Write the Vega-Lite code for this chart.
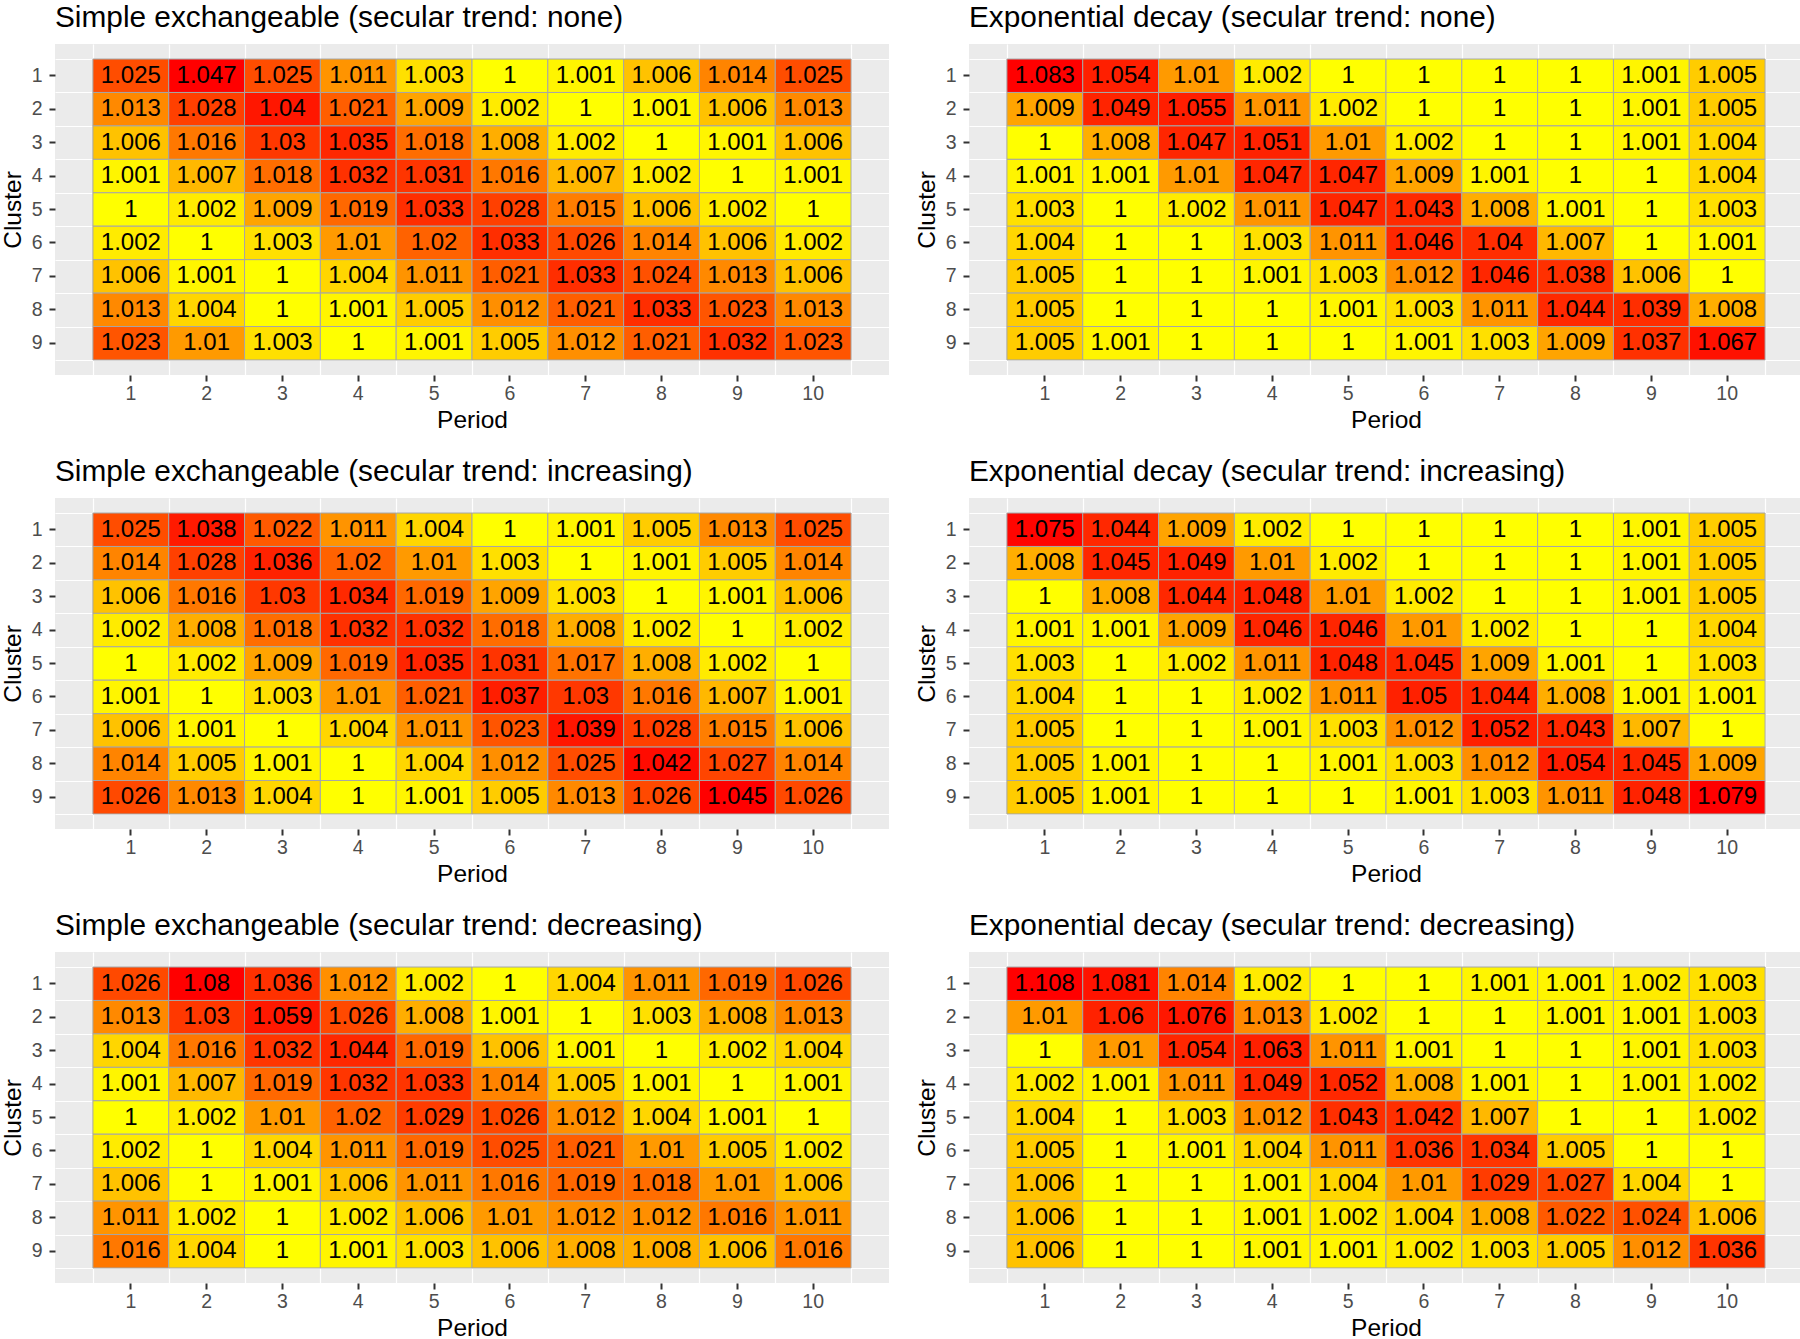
{
"$schema": "https://vega.github.io/schema/vega-lite/v6.json",
"background": "white",
"padding": {"left": 0, "top": 3, "right": 0, "bottom": 0},
"config": {
  "font": "Liberation Sans",
  "view": {"fill": "#EBEBEB", "stroke": null},
  "axis": {"domain": false, "grid": true, "gridColor": "#FFFFFF", "gridWidth": 2, "labelFontSize": 19.5, "labelColor": "#4D4D4D", "labelPadding": 3, "labelAngle": 0, "tickColor": "#333333", "tickSize": 6, "tickWidth": 2, "titleFontSize": 24.5, "titleFontWeight": "normal", "titleColor": "#000000", "titlePadding": 5, "zindex": 0},
  "axisX": {"labelPadding": 3, "titlePadding": 6},
  "axisY": {"labelPadding": 7, "titlePadding": 6},
  "title": {"anchor": "start", "frame": "group", "fontSize": 29.8, "fontWeight": "normal", "color": "#000000", "baseline": "alphabetic", "offset": 11}
},
"datasets": {
"se_none": [
{"cluster":1,"period":1,"value":1.025},{"cluster":1,"period":2,"value":1.047},{"cluster":1,"period":3,"value":1.025},{"cluster":1,"period":4,"value":1.011},{"cluster":1,"period":5,"value":1.003},{"cluster":1,"period":6,"value":1},{"cluster":1,"period":7,"value":1.001},{"cluster":1,"period":8,"value":1.006},{"cluster":1,"period":9,"value":1.014},{"cluster":1,"period":10,"value":1.025},
{"cluster":2,"period":1,"value":1.013},{"cluster":2,"period":2,"value":1.028},{"cluster":2,"period":3,"value":1.04},{"cluster":2,"period":4,"value":1.021},{"cluster":2,"period":5,"value":1.009},{"cluster":2,"period":6,"value":1.002},{"cluster":2,"period":7,"value":1},{"cluster":2,"period":8,"value":1.001},{"cluster":2,"period":9,"value":1.006},{"cluster":2,"period":10,"value":1.013},
{"cluster":3,"period":1,"value":1.006},{"cluster":3,"period":2,"value":1.016},{"cluster":3,"period":3,"value":1.03},{"cluster":3,"period":4,"value":1.035},{"cluster":3,"period":5,"value":1.018},{"cluster":3,"period":6,"value":1.008},{"cluster":3,"period":7,"value":1.002},{"cluster":3,"period":8,"value":1},{"cluster":3,"period":9,"value":1.001},{"cluster":3,"period":10,"value":1.006},
{"cluster":4,"period":1,"value":1.001},{"cluster":4,"period":2,"value":1.007},{"cluster":4,"period":3,"value":1.018},{"cluster":4,"period":4,"value":1.032},{"cluster":4,"period":5,"value":1.031},{"cluster":4,"period":6,"value":1.016},{"cluster":4,"period":7,"value":1.007},{"cluster":4,"period":8,"value":1.002},{"cluster":4,"period":9,"value":1},{"cluster":4,"period":10,"value":1.001},
{"cluster":5,"period":1,"value":1},{"cluster":5,"period":2,"value":1.002},{"cluster":5,"period":3,"value":1.009},{"cluster":5,"period":4,"value":1.019},{"cluster":5,"period":5,"value":1.033},{"cluster":5,"period":6,"value":1.028},{"cluster":5,"period":7,"value":1.015},{"cluster":5,"period":8,"value":1.006},{"cluster":5,"period":9,"value":1.002},{"cluster":5,"period":10,"value":1},
{"cluster":6,"period":1,"value":1.002},{"cluster":6,"period":2,"value":1},{"cluster":6,"period":3,"value":1.003},{"cluster":6,"period":4,"value":1.01},{"cluster":6,"period":5,"value":1.02},{"cluster":6,"period":6,"value":1.033},{"cluster":6,"period":7,"value":1.026},{"cluster":6,"period":8,"value":1.014},{"cluster":6,"period":9,"value":1.006},{"cluster":6,"period":10,"value":1.002},
{"cluster":7,"period":1,"value":1.006},{"cluster":7,"period":2,"value":1.001},{"cluster":7,"period":3,"value":1},{"cluster":7,"period":4,"value":1.004},{"cluster":7,"period":5,"value":1.011},{"cluster":7,"period":6,"value":1.021},{"cluster":7,"period":7,"value":1.033},{"cluster":7,"period":8,"value":1.024},{"cluster":7,"period":9,"value":1.013},{"cluster":7,"period":10,"value":1.006},
{"cluster":8,"period":1,"value":1.013},{"cluster":8,"period":2,"value":1.004},{"cluster":8,"period":3,"value":1},{"cluster":8,"period":4,"value":1.001},{"cluster":8,"period":5,"value":1.005},{"cluster":8,"period":6,"value":1.012},{"cluster":8,"period":7,"value":1.021},{"cluster":8,"period":8,"value":1.033},{"cluster":8,"period":9,"value":1.023},{"cluster":8,"period":10,"value":1.013},
{"cluster":9,"period":1,"value":1.023},{"cluster":9,"period":2,"value":1.01},{"cluster":9,"period":3,"value":1.003},{"cluster":9,"period":4,"value":1},{"cluster":9,"period":5,"value":1.001},{"cluster":9,"period":6,"value":1.005},{"cluster":9,"period":7,"value":1.012},{"cluster":9,"period":8,"value":1.021},{"cluster":9,"period":9,"value":1.032},{"cluster":9,"period":10,"value":1.023}
],
"ed_none": [
{"cluster":1,"period":1,"value":1.083},{"cluster":1,"period":2,"value":1.054},{"cluster":1,"period":3,"value":1.01},{"cluster":1,"period":4,"value":1.002},{"cluster":1,"period":5,"value":1},{"cluster":1,"period":6,"value":1},{"cluster":1,"period":7,"value":1},{"cluster":1,"period":8,"value":1},{"cluster":1,"period":9,"value":1.001},{"cluster":1,"period":10,"value":1.005},
{"cluster":2,"period":1,"value":1.009},{"cluster":2,"period":2,"value":1.049},{"cluster":2,"period":3,"value":1.055},{"cluster":2,"period":4,"value":1.011},{"cluster":2,"period":5,"value":1.002},{"cluster":2,"period":6,"value":1},{"cluster":2,"period":7,"value":1},{"cluster":2,"period":8,"value":1},{"cluster":2,"period":9,"value":1.001},{"cluster":2,"period":10,"value":1.005},
{"cluster":3,"period":1,"value":1},{"cluster":3,"period":2,"value":1.008},{"cluster":3,"period":3,"value":1.047},{"cluster":3,"period":4,"value":1.051},{"cluster":3,"period":5,"value":1.01},{"cluster":3,"period":6,"value":1.002},{"cluster":3,"period":7,"value":1},{"cluster":3,"period":8,"value":1},{"cluster":3,"period":9,"value":1.001},{"cluster":3,"period":10,"value":1.004},
{"cluster":4,"period":1,"value":1.001},{"cluster":4,"period":2,"value":1.001},{"cluster":4,"period":3,"value":1.01},{"cluster":4,"period":4,"value":1.047},{"cluster":4,"period":5,"value":1.047},{"cluster":4,"period":6,"value":1.009},{"cluster":4,"period":7,"value":1.001},{"cluster":4,"period":8,"value":1},{"cluster":4,"period":9,"value":1},{"cluster":4,"period":10,"value":1.004},
{"cluster":5,"period":1,"value":1.003},{"cluster":5,"period":2,"value":1},{"cluster":5,"period":3,"value":1.002},{"cluster":5,"period":4,"value":1.011},{"cluster":5,"period":5,"value":1.047},{"cluster":5,"period":6,"value":1.043},{"cluster":5,"period":7,"value":1.008},{"cluster":5,"period":8,"value":1.001},{"cluster":5,"period":9,"value":1},{"cluster":5,"period":10,"value":1.003},
{"cluster":6,"period":1,"value":1.004},{"cluster":6,"period":2,"value":1},{"cluster":6,"period":3,"value":1},{"cluster":6,"period":4,"value":1.003},{"cluster":6,"period":5,"value":1.011},{"cluster":6,"period":6,"value":1.046},{"cluster":6,"period":7,"value":1.04},{"cluster":6,"period":8,"value":1.007},{"cluster":6,"period":9,"value":1},{"cluster":6,"period":10,"value":1.001},
{"cluster":7,"period":1,"value":1.005},{"cluster":7,"period":2,"value":1},{"cluster":7,"period":3,"value":1},{"cluster":7,"period":4,"value":1.001},{"cluster":7,"period":5,"value":1.003},{"cluster":7,"period":6,"value":1.012},{"cluster":7,"period":7,"value":1.046},{"cluster":7,"period":8,"value":1.038},{"cluster":7,"period":9,"value":1.006},{"cluster":7,"period":10,"value":1},
{"cluster":8,"period":1,"value":1.005},{"cluster":8,"period":2,"value":1},{"cluster":8,"period":3,"value":1},{"cluster":8,"period":4,"value":1},{"cluster":8,"period":5,"value":1.001},{"cluster":8,"period":6,"value":1.003},{"cluster":8,"period":7,"value":1.011},{"cluster":8,"period":8,"value":1.044},{"cluster":8,"period":9,"value":1.039},{"cluster":8,"period":10,"value":1.008},
{"cluster":9,"period":1,"value":1.005},{"cluster":9,"period":2,"value":1.001},{"cluster":9,"period":3,"value":1},{"cluster":9,"period":4,"value":1},{"cluster":9,"period":5,"value":1},{"cluster":9,"period":6,"value":1.001},{"cluster":9,"period":7,"value":1.003},{"cluster":9,"period":8,"value":1.009},{"cluster":9,"period":9,"value":1.037},{"cluster":9,"period":10,"value":1.067}
],
"se_inc": [
{"cluster":1,"period":1,"value":1.025},{"cluster":1,"period":2,"value":1.038},{"cluster":1,"period":3,"value":1.022},{"cluster":1,"period":4,"value":1.011},{"cluster":1,"period":5,"value":1.004},{"cluster":1,"period":6,"value":1},{"cluster":1,"period":7,"value":1.001},{"cluster":1,"period":8,"value":1.005},{"cluster":1,"period":9,"value":1.013},{"cluster":1,"period":10,"value":1.025},
{"cluster":2,"period":1,"value":1.014},{"cluster":2,"period":2,"value":1.028},{"cluster":2,"period":3,"value":1.036},{"cluster":2,"period":4,"value":1.02},{"cluster":2,"period":5,"value":1.01},{"cluster":2,"period":6,"value":1.003},{"cluster":2,"period":7,"value":1},{"cluster":2,"period":8,"value":1.001},{"cluster":2,"period":9,"value":1.005},{"cluster":2,"period":10,"value":1.014},
{"cluster":3,"period":1,"value":1.006},{"cluster":3,"period":2,"value":1.016},{"cluster":3,"period":3,"value":1.03},{"cluster":3,"period":4,"value":1.034},{"cluster":3,"period":5,"value":1.019},{"cluster":3,"period":6,"value":1.009},{"cluster":3,"period":7,"value":1.003},{"cluster":3,"period":8,"value":1},{"cluster":3,"period":9,"value":1.001},{"cluster":3,"period":10,"value":1.006},
{"cluster":4,"period":1,"value":1.002},{"cluster":4,"period":2,"value":1.008},{"cluster":4,"period":3,"value":1.018},{"cluster":4,"period":4,"value":1.032},{"cluster":4,"period":5,"value":1.032},{"cluster":4,"period":6,"value":1.018},{"cluster":4,"period":7,"value":1.008},{"cluster":4,"period":8,"value":1.002},{"cluster":4,"period":9,"value":1},{"cluster":4,"period":10,"value":1.002},
{"cluster":5,"period":1,"value":1},{"cluster":5,"period":2,"value":1.002},{"cluster":5,"period":3,"value":1.009},{"cluster":5,"period":4,"value":1.019},{"cluster":5,"period":5,"value":1.035},{"cluster":5,"period":6,"value":1.031},{"cluster":5,"period":7,"value":1.017},{"cluster":5,"period":8,"value":1.008},{"cluster":5,"period":9,"value":1.002},{"cluster":5,"period":10,"value":1},
{"cluster":6,"period":1,"value":1.001},{"cluster":6,"period":2,"value":1},{"cluster":6,"period":3,"value":1.003},{"cluster":6,"period":4,"value":1.01},{"cluster":6,"period":5,"value":1.021},{"cluster":6,"period":6,"value":1.037},{"cluster":6,"period":7,"value":1.03},{"cluster":6,"period":8,"value":1.016},{"cluster":6,"period":9,"value":1.007},{"cluster":6,"period":10,"value":1.001},
{"cluster":7,"period":1,"value":1.006},{"cluster":7,"period":2,"value":1.001},{"cluster":7,"period":3,"value":1},{"cluster":7,"period":4,"value":1.004},{"cluster":7,"period":5,"value":1.011},{"cluster":7,"period":6,"value":1.023},{"cluster":7,"period":7,"value":1.039},{"cluster":7,"period":8,"value":1.028},{"cluster":7,"period":9,"value":1.015},{"cluster":7,"period":10,"value":1.006},
{"cluster":8,"period":1,"value":1.014},{"cluster":8,"period":2,"value":1.005},{"cluster":8,"period":3,"value":1.001},{"cluster":8,"period":4,"value":1},{"cluster":8,"period":5,"value":1.004},{"cluster":8,"period":6,"value":1.012},{"cluster":8,"period":7,"value":1.025},{"cluster":8,"period":8,"value":1.042},{"cluster":8,"period":9,"value":1.027},{"cluster":8,"period":10,"value":1.014},
{"cluster":9,"period":1,"value":1.026},{"cluster":9,"period":2,"value":1.013},{"cluster":9,"period":3,"value":1.004},{"cluster":9,"period":4,"value":1},{"cluster":9,"period":5,"value":1.001},{"cluster":9,"period":6,"value":1.005},{"cluster":9,"period":7,"value":1.013},{"cluster":9,"period":8,"value":1.026},{"cluster":9,"period":9,"value":1.045},{"cluster":9,"period":10,"value":1.026}
],
"ed_inc": [
{"cluster":1,"period":1,"value":1.075},{"cluster":1,"period":2,"value":1.044},{"cluster":1,"period":3,"value":1.009},{"cluster":1,"period":4,"value":1.002},{"cluster":1,"period":5,"value":1},{"cluster":1,"period":6,"value":1},{"cluster":1,"period":7,"value":1},{"cluster":1,"period":8,"value":1},{"cluster":1,"period":9,"value":1.001},{"cluster":1,"period":10,"value":1.005},
{"cluster":2,"period":1,"value":1.008},{"cluster":2,"period":2,"value":1.045},{"cluster":2,"period":3,"value":1.049},{"cluster":2,"period":4,"value":1.01},{"cluster":2,"period":5,"value":1.002},{"cluster":2,"period":6,"value":1},{"cluster":2,"period":7,"value":1},{"cluster":2,"period":8,"value":1},{"cluster":2,"period":9,"value":1.001},{"cluster":2,"period":10,"value":1.005},
{"cluster":3,"period":1,"value":1},{"cluster":3,"period":2,"value":1.008},{"cluster":3,"period":3,"value":1.044},{"cluster":3,"period":4,"value":1.048},{"cluster":3,"period":5,"value":1.01},{"cluster":3,"period":6,"value":1.002},{"cluster":3,"period":7,"value":1},{"cluster":3,"period":8,"value":1},{"cluster":3,"period":9,"value":1.001},{"cluster":3,"period":10,"value":1.005},
{"cluster":4,"period":1,"value":1.001},{"cluster":4,"period":2,"value":1.001},{"cluster":4,"period":3,"value":1.009},{"cluster":4,"period":4,"value":1.046},{"cluster":4,"period":5,"value":1.046},{"cluster":4,"period":6,"value":1.01},{"cluster":4,"period":7,"value":1.002},{"cluster":4,"period":8,"value":1},{"cluster":4,"period":9,"value":1},{"cluster":4,"period":10,"value":1.004},
{"cluster":5,"period":1,"value":1.003},{"cluster":5,"period":2,"value":1},{"cluster":5,"period":3,"value":1.002},{"cluster":5,"period":4,"value":1.011},{"cluster":5,"period":5,"value":1.048},{"cluster":5,"period":6,"value":1.045},{"cluster":5,"period":7,"value":1.009},{"cluster":5,"period":8,"value":1.001},{"cluster":5,"period":9,"value":1},{"cluster":5,"period":10,"value":1.003},
{"cluster":6,"period":1,"value":1.004},{"cluster":6,"period":2,"value":1},{"cluster":6,"period":3,"value":1},{"cluster":6,"period":4,"value":1.002},{"cluster":6,"period":5,"value":1.011},{"cluster":6,"period":6,"value":1.05},{"cluster":6,"period":7,"value":1.044},{"cluster":6,"period":8,"value":1.008},{"cluster":6,"period":9,"value":1.001},{"cluster":6,"period":10,"value":1.001},
{"cluster":7,"period":1,"value":1.005},{"cluster":7,"period":2,"value":1},{"cluster":7,"period":3,"value":1},{"cluster":7,"period":4,"value":1.001},{"cluster":7,"period":5,"value":1.003},{"cluster":7,"period":6,"value":1.012},{"cluster":7,"period":7,"value":1.052},{"cluster":7,"period":8,"value":1.043},{"cluster":7,"period":9,"value":1.007},{"cluster":7,"period":10,"value":1},
{"cluster":8,"period":1,"value":1.005},{"cluster":8,"period":2,"value":1.001},{"cluster":8,"period":3,"value":1},{"cluster":8,"period":4,"value":1},{"cluster":8,"period":5,"value":1.001},{"cluster":8,"period":6,"value":1.003},{"cluster":8,"period":7,"value":1.012},{"cluster":8,"period":8,"value":1.054},{"cluster":8,"period":9,"value":1.045},{"cluster":8,"period":10,"value":1.009},
{"cluster":9,"period":1,"value":1.005},{"cluster":9,"period":2,"value":1.001},{"cluster":9,"period":3,"value":1},{"cluster":9,"period":4,"value":1},{"cluster":9,"period":5,"value":1},{"cluster":9,"period":6,"value":1.001},{"cluster":9,"period":7,"value":1.003},{"cluster":9,"period":8,"value":1.011},{"cluster":9,"period":9,"value":1.048},{"cluster":9,"period":10,"value":1.079}
],
"se_dec": [
{"cluster":1,"period":1,"value":1.026},{"cluster":1,"period":2,"value":1.08},{"cluster":1,"period":3,"value":1.036},{"cluster":1,"period":4,"value":1.012},{"cluster":1,"period":5,"value":1.002},{"cluster":1,"period":6,"value":1},{"cluster":1,"period":7,"value":1.004},{"cluster":1,"period":8,"value":1.011},{"cluster":1,"period":9,"value":1.019},{"cluster":1,"period":10,"value":1.026},
{"cluster":2,"period":1,"value":1.013},{"cluster":2,"period":2,"value":1.03},{"cluster":2,"period":3,"value":1.059},{"cluster":2,"period":4,"value":1.026},{"cluster":2,"period":5,"value":1.008},{"cluster":2,"period":6,"value":1.001},{"cluster":2,"period":7,"value":1},{"cluster":2,"period":8,"value":1.003},{"cluster":2,"period":9,"value":1.008},{"cluster":2,"period":10,"value":1.013},
{"cluster":3,"period":1,"value":1.004},{"cluster":3,"period":2,"value":1.016},{"cluster":3,"period":3,"value":1.032},{"cluster":3,"period":4,"value":1.044},{"cluster":3,"period":5,"value":1.019},{"cluster":3,"period":6,"value":1.006},{"cluster":3,"period":7,"value":1.001},{"cluster":3,"period":8,"value":1},{"cluster":3,"period":9,"value":1.002},{"cluster":3,"period":10,"value":1.004},
{"cluster":4,"period":1,"value":1.001},{"cluster":4,"period":2,"value":1.007},{"cluster":4,"period":3,"value":1.019},{"cluster":4,"period":4,"value":1.032},{"cluster":4,"period":5,"value":1.033},{"cluster":4,"period":6,"value":1.014},{"cluster":4,"period":7,"value":1.005},{"cluster":4,"period":8,"value":1.001},{"cluster":4,"period":9,"value":1},{"cluster":4,"period":10,"value":1.001},
{"cluster":5,"period":1,"value":1},{"cluster":5,"period":2,"value":1.002},{"cluster":5,"period":3,"value":1.01},{"cluster":5,"period":4,"value":1.02},{"cluster":5,"period":5,"value":1.029},{"cluster":5,"period":6,"value":1.026},{"cluster":5,"period":7,"value":1.012},{"cluster":5,"period":8,"value":1.004},{"cluster":5,"period":9,"value":1.001},{"cluster":5,"period":10,"value":1},
{"cluster":6,"period":1,"value":1.002},{"cluster":6,"period":2,"value":1},{"cluster":6,"period":3,"value":1.004},{"cluster":6,"period":4,"value":1.011},{"cluster":6,"period":5,"value":1.019},{"cluster":6,"period":6,"value":1.025},{"cluster":6,"period":7,"value":1.021},{"cluster":6,"period":8,"value":1.01},{"cluster":6,"period":9,"value":1.005},{"cluster":6,"period":10,"value":1.002},
{"cluster":7,"period":1,"value":1.006},{"cluster":7,"period":2,"value":1},{"cluster":7,"period":3,"value":1.001},{"cluster":7,"period":4,"value":1.006},{"cluster":7,"period":5,"value":1.011},{"cluster":7,"period":6,"value":1.016},{"cluster":7,"period":7,"value":1.019},{"cluster":7,"period":8,"value":1.018},{"cluster":7,"period":9,"value":1.01},{"cluster":7,"period":10,"value":1.006},
{"cluster":8,"period":1,"value":1.011},{"cluster":8,"period":2,"value":1.002},{"cluster":8,"period":3,"value":1},{"cluster":8,"period":4,"value":1.002},{"cluster":8,"period":5,"value":1.006},{"cluster":8,"period":6,"value":1.01},{"cluster":8,"period":7,"value":1.012},{"cluster":8,"period":8,"value":1.012},{"cluster":8,"period":9,"value":1.016},{"cluster":8,"period":10,"value":1.011},
{"cluster":9,"period":1,"value":1.016},{"cluster":9,"period":2,"value":1.004},{"cluster":9,"period":3,"value":1},{"cluster":9,"period":4,"value":1.001},{"cluster":9,"period":5,"value":1.003},{"cluster":9,"period":6,"value":1.006},{"cluster":9,"period":7,"value":1.008},{"cluster":9,"period":8,"value":1.008},{"cluster":9,"period":9,"value":1.006},{"cluster":9,"period":10,"value":1.016}
],
"ed_dec": [
{"cluster":1,"period":1,"value":1.108},{"cluster":1,"period":2,"value":1.081},{"cluster":1,"period":3,"value":1.014},{"cluster":1,"period":4,"value":1.002},{"cluster":1,"period":5,"value":1},{"cluster":1,"period":6,"value":1},{"cluster":1,"period":7,"value":1.001},{"cluster":1,"period":8,"value":1.001},{"cluster":1,"period":9,"value":1.002},{"cluster":1,"period":10,"value":1.003},
{"cluster":2,"period":1,"value":1.01},{"cluster":2,"period":2,"value":1.06},{"cluster":2,"period":3,"value":1.076},{"cluster":2,"period":4,"value":1.013},{"cluster":2,"period":5,"value":1.002},{"cluster":2,"period":6,"value":1},{"cluster":2,"period":7,"value":1},{"cluster":2,"period":8,"value":1.001},{"cluster":2,"period":9,"value":1.001},{"cluster":2,"period":10,"value":1.003},
{"cluster":3,"period":1,"value":1},{"cluster":3,"period":2,"value":1.01},{"cluster":3,"period":3,"value":1.054},{"cluster":3,"period":4,"value":1.063},{"cluster":3,"period":5,"value":1.011},{"cluster":3,"period":6,"value":1.001},{"cluster":3,"period":7,"value":1},{"cluster":3,"period":8,"value":1},{"cluster":3,"period":9,"value":1.001},{"cluster":3,"period":10,"value":1.003},
{"cluster":4,"period":1,"value":1.002},{"cluster":4,"period":2,"value":1.001},{"cluster":4,"period":3,"value":1.011},{"cluster":4,"period":4,"value":1.049},{"cluster":4,"period":5,"value":1.052},{"cluster":4,"period":6,"value":1.008},{"cluster":4,"period":7,"value":1.001},{"cluster":4,"period":8,"value":1},{"cluster":4,"period":9,"value":1.001},{"cluster":4,"period":10,"value":1.002},
{"cluster":5,"period":1,"value":1.004},{"cluster":5,"period":2,"value":1},{"cluster":5,"period":3,"value":1.003},{"cluster":5,"period":4,"value":1.012},{"cluster":5,"period":5,"value":1.043},{"cluster":5,"period":6,"value":1.042},{"cluster":5,"period":7,"value":1.007},{"cluster":5,"period":8,"value":1},{"cluster":5,"period":9,"value":1},{"cluster":5,"period":10,"value":1.002},
{"cluster":6,"period":1,"value":1.005},{"cluster":6,"period":2,"value":1},{"cluster":6,"period":3,"value":1.001},{"cluster":6,"period":4,"value":1.004},{"cluster":6,"period":5,"value":1.011},{"cluster":6,"period":6,"value":1.036},{"cluster":6,"period":7,"value":1.034},{"cluster":6,"period":8,"value":1.005},{"cluster":6,"period":9,"value":1},{"cluster":6,"period":10,"value":1},
{"cluster":7,"period":1,"value":1.006},{"cluster":7,"period":2,"value":1},{"cluster":7,"period":3,"value":1},{"cluster":7,"period":4,"value":1.001},{"cluster":7,"period":5,"value":1.004},{"cluster":7,"period":6,"value":1.01},{"cluster":7,"period":7,"value":1.029},{"cluster":7,"period":8,"value":1.027},{"cluster":7,"period":9,"value":1.004},{"cluster":7,"period":10,"value":1},
{"cluster":8,"period":1,"value":1.006},{"cluster":8,"period":2,"value":1},{"cluster":8,"period":3,"value":1},{"cluster":8,"period":4,"value":1.001},{"cluster":8,"period":5,"value":1.002},{"cluster":8,"period":6,"value":1.004},{"cluster":8,"period":7,"value":1.008},{"cluster":8,"period":8,"value":1.022},{"cluster":8,"period":9,"value":1.024},{"cluster":8,"period":10,"value":1.006},
{"cluster":9,"period":1,"value":1.006},{"cluster":9,"period":2,"value":1},{"cluster":9,"period":3,"value":1},{"cluster":9,"period":4,"value":1.001},{"cluster":9,"period":5,"value":1.001},{"cluster":9,"period":6,"value":1.002},{"cluster":9,"period":7,"value":1.003},{"cluster":9,"period":8,"value":1.005},{"cluster":9,"period":9,"value":1.012},{"cluster":9,"period":10,"value":1.036}
]
},
"resolve": {"scale": {"color": "independent"}},
"spacing": 25,
"vconcat": [
{"hconcat": [
 {"width": 834, "height": 331, "title": "Simple exchangeable (secular trend: none)", "data": {"name": "se_none"},
  "resolve": {"axis": {"x": "independent", "y": "independent"}},
  "layer": [
   {"mark": {"type": "rect", "stroke": "#A6A6A6", "strokeWidth": 1},
    "encoding": {
     "x": {"field": "period", "type": "ordinal", "scale": {"type": "band", "paddingInner": 0, "paddingOuter": 0.5}, "axis": {"orient": "bottom", "labels": false, "ticks": false, "title": null, "tickBand": "extent", "gridWidth": 1.2}},
     "y": {"field": "cluster", "type": "ordinal", "scale": {"type": "band", "paddingInner": 0, "paddingOuter": 0.45}, "axis": {"orient": "left", "labels": false, "ticks": false, "title": null, "tickBand": "extent", "gridWidth": 1.2}},
     "color": {"field": "value", "type": "quantitative", "scale": {"type": "linear", "domain": [1, 1.005, 1.01, 1.02, 1.03, 1.047], "range": ["#FFFF00", "#FFCC00", "#FF9A00", "#FF6200", "#FF3800", "#FF0000"], "interpolate": "rgb"}, "legend": null}}},
   {"mark": {"type": "text", "fontSize": 24, "color": "#000000"},
    "encoding": {
     "x": {"field": "period", "type": "ordinal", "axis": {"orient": "bottom", "title": "Period"}},
     "y": {"field": "cluster", "type": "ordinal", "axis": {"orient": "left", "title": "Cluster"}},
     "text": {"field": "value", "type": "quantitative", "format": "~g"}}}
  ]},
 {"width": 834, "height": 331, "title": "Exponential decay (secular trend: none)", "data": {"name": "ed_none"},
  "resolve": {"axis": {"x": "independent", "y": "independent"}},
  "layer": [
   {"mark": {"type": "rect", "stroke": "#A6A6A6", "strokeWidth": 1},
    "encoding": {
     "x": {"field": "period", "type": "ordinal", "scale": {"type": "band", "paddingInner": 0, "paddingOuter": 0.5}, "axis": {"orient": "bottom", "labels": false, "ticks": false, "title": null, "tickBand": "extent", "gridWidth": 1.2}},
     "y": {"field": "cluster", "type": "ordinal", "scale": {"type": "band", "paddingInner": 0, "paddingOuter": 0.45}, "axis": {"orient": "left", "labels": false, "ticks": false, "title": null, "tickBand": "extent", "gridWidth": 1.2}},
     "color": {"field": "value", "type": "quantitative", "scale": {"type": "linear", "domain": [1, 1.005, 1.01, 1.02, 1.03, 1.083], "range": ["#FFFF00", "#FFCC00", "#FF9A00", "#FF6200", "#FF3800", "#FF0000"], "interpolate": "rgb"}, "legend": null}}},
   {"mark": {"type": "text", "fontSize": 24, "color": "#000000"},
    "encoding": {
     "x": {"field": "period", "type": "ordinal", "axis": {"orient": "bottom", "title": "Period"}},
     "y": {"field": "cluster", "type": "ordinal", "axis": {"orient": "left", "title": "Cluster"}},
     "text": {"field": "value", "type": "quantitative", "format": "~g"}}}
  ]}
 ], "spacing": 25, "resolve": {"scale": {"color": "independent"}}},
{"hconcat": [
 {"width": 834, "height": 331, "title": "Simple exchangeable (secular trend: increasing)", "data": {"name": "se_inc"},
  "resolve": {"axis": {"x": "independent", "y": "independent"}},
  "layer": [
   {"mark": {"type": "rect", "stroke": "#A6A6A6", "strokeWidth": 1},
    "encoding": {
     "x": {"field": "period", "type": "ordinal", "scale": {"type": "band", "paddingInner": 0, "paddingOuter": 0.5}, "axis": {"orient": "bottom", "labels": false, "ticks": false, "title": null, "tickBand": "extent", "gridWidth": 1.2}},
     "y": {"field": "cluster", "type": "ordinal", "scale": {"type": "band", "paddingInner": 0, "paddingOuter": 0.45}, "axis": {"orient": "left", "labels": false, "ticks": false, "title": null, "tickBand": "extent", "gridWidth": 1.2}},
     "color": {"field": "value", "type": "quantitative", "scale": {"type": "linear", "domain": [1, 1.005, 1.01, 1.02, 1.03, 1.045], "range": ["#FFFF00", "#FFCC00", "#FF9A00", "#FF6200", "#FF3800", "#FF0000"], "interpolate": "rgb"}, "legend": null}}},
   {"mark": {"type": "text", "fontSize": 24, "color": "#000000"},
    "encoding": {
     "x": {"field": "period", "type": "ordinal", "axis": {"orient": "bottom", "title": "Period"}},
     "y": {"field": "cluster", "type": "ordinal", "axis": {"orient": "left", "title": "Cluster"}},
     "text": {"field": "value", "type": "quantitative", "format": "~g"}}}
  ]},
 {"width": 834, "height": 331, "title": "Exponential decay (secular trend: increasing)", "data": {"name": "ed_inc"},
  "resolve": {"axis": {"x": "independent", "y": "independent"}},
  "layer": [
   {"mark": {"type": "rect", "stroke": "#A6A6A6", "strokeWidth": 1},
    "encoding": {
     "x": {"field": "period", "type": "ordinal", "scale": {"type": "band", "paddingInner": 0, "paddingOuter": 0.5}, "axis": {"orient": "bottom", "labels": false, "ticks": false, "title": null, "tickBand": "extent", "gridWidth": 1.2}},
     "y": {"field": "cluster", "type": "ordinal", "scale": {"type": "band", "paddingInner": 0, "paddingOuter": 0.45}, "axis": {"orient": "left", "labels": false, "ticks": false, "title": null, "tickBand": "extent", "gridWidth": 1.2}},
     "color": {"field": "value", "type": "quantitative", "scale": {"type": "linear", "domain": [1, 1.005, 1.01, 1.02, 1.03, 1.079], "range": ["#FFFF00", "#FFCC00", "#FF9A00", "#FF6200", "#FF3800", "#FF0000"], "interpolate": "rgb"}, "legend": null}}},
   {"mark": {"type": "text", "fontSize": 24, "color": "#000000"},
    "encoding": {
     "x": {"field": "period", "type": "ordinal", "axis": {"orient": "bottom", "title": "Period"}},
     "y": {"field": "cluster", "type": "ordinal", "axis": {"orient": "left", "title": "Cluster"}},
     "text": {"field": "value", "type": "quantitative", "format": "~g"}}}
  ]}
 ], "spacing": 25, "resolve": {"scale": {"color": "independent"}}},
{"hconcat": [
 {"width": 834, "height": 331, "title": "Simple exchangeable (secular trend: decreasing)", "data": {"name": "se_dec"},
  "resolve": {"axis": {"x": "independent", "y": "independent"}},
  "layer": [
   {"mark": {"type": "rect", "stroke": "#A6A6A6", "strokeWidth": 1},
    "encoding": {
     "x": {"field": "period", "type": "ordinal", "scale": {"type": "band", "paddingInner": 0, "paddingOuter": 0.5}, "axis": {"orient": "bottom", "labels": false, "ticks": false, "title": null, "tickBand": "extent", "gridWidth": 1.2}},
     "y": {"field": "cluster", "type": "ordinal", "scale": {"type": "band", "paddingInner": 0, "paddingOuter": 0.45}, "axis": {"orient": "left", "labels": false, "ticks": false, "title": null, "tickBand": "extent", "gridWidth": 1.2}},
     "color": {"field": "value", "type": "quantitative", "scale": {"type": "linear", "domain": [1, 1.005, 1.01, 1.02, 1.03, 1.08], "range": ["#FFFF00", "#FFCC00", "#FF9A00", "#FF6200", "#FF3800", "#FF0000"], "interpolate": "rgb"}, "legend": null}}},
   {"mark": {"type": "text", "fontSize": 24, "color": "#000000"},
    "encoding": {
     "x": {"field": "period", "type": "ordinal", "axis": {"orient": "bottom", "title": "Period"}},
     "y": {"field": "cluster", "type": "ordinal", "axis": {"orient": "left", "title": "Cluster"}},
     "text": {"field": "value", "type": "quantitative", "format": "~g"}}}
  ]},
 {"width": 834, "height": 331, "title": "Exponential decay (secular trend: decreasing)", "data": {"name": "ed_dec"},
  "resolve": {"axis": {"x": "independent", "y": "independent"}},
  "layer": [
   {"mark": {"type": "rect", "stroke": "#A6A6A6", "strokeWidth": 1},
    "encoding": {
     "x": {"field": "period", "type": "ordinal", "scale": {"type": "band", "paddingInner": 0, "paddingOuter": 0.5}, "axis": {"orient": "bottom", "labels": false, "ticks": false, "title": null, "tickBand": "extent", "gridWidth": 1.2}},
     "y": {"field": "cluster", "type": "ordinal", "scale": {"type": "band", "paddingInner": 0, "paddingOuter": 0.45}, "axis": {"orient": "left", "labels": false, "ticks": false, "title": null, "tickBand": "extent", "gridWidth": 1.2}},
     "color": {"field": "value", "type": "quantitative", "scale": {"type": "linear", "domain": [1, 1.005, 1.01, 1.02, 1.03, 1.108], "range": ["#FFFF00", "#FFCC00", "#FF9A00", "#FF6200", "#FF3800", "#FF0000"], "interpolate": "rgb"}, "legend": null}}},
   {"mark": {"type": "text", "fontSize": 24, "color": "#000000"},
    "encoding": {
     "x": {"field": "period", "type": "ordinal", "axis": {"orient": "bottom", "title": "Period"}},
     "y": {"field": "cluster", "type": "ordinal", "axis": {"orient": "left", "title": "Cluster"}},
     "text": {"field": "value", "type": "quantitative", "format": "~g"}}}
  ]}
 ], "spacing": 25, "resolve": {"scale": {"color": "independent"}}}
]
}
